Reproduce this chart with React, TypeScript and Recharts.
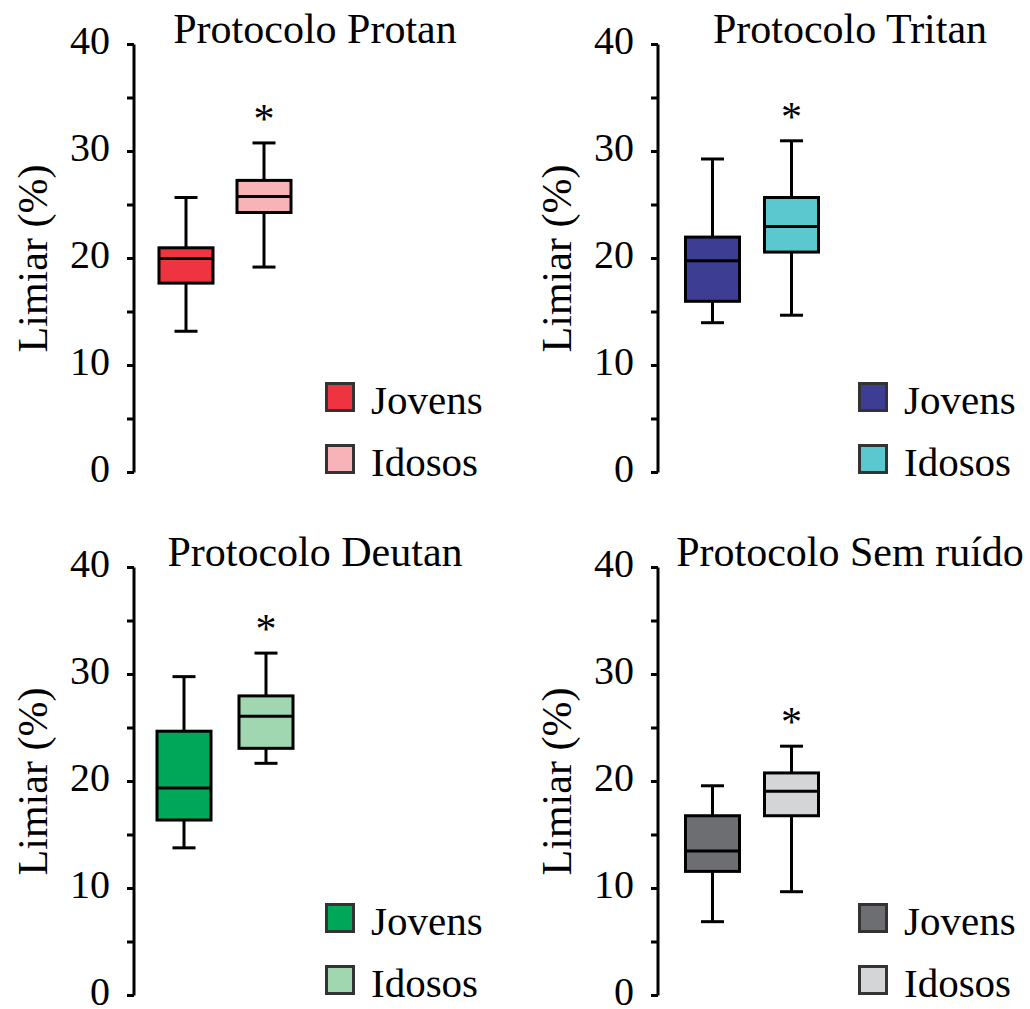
import { ComposedChart, Bar, Cell, XAxis, YAxis } from 'recharts';

const groups = ['Jovens', 'Idosos'];
const yTicks = [0, 5, 10, 15, 20, 25, 30, 35, 40];

// min, q1, median, q3, max per group
const protanMin = [13.2, 19.2];
const protanQ1 = [17.7, 24.3];
const protanMed = [20.0, 25.8];
const protanQ3 = [21.0, 27.3];
const protanMax = [25.7, 30.8];

const tritanMin = [14.0, 14.7];
const tritanQ1 = [16.0, 20.6];
const tritanMed = [19.8, 23.0];
const tritanQ3 = [22.0, 25.7];
const tritanMax = [29.3, 31.0];

const deutanMin = [13.8, 21.7];
const deutanQ1 = [16.4, 23.1];
const deutanMed = [19.4, 26.1];
const deutanQ3 = [24.7, 28.0];
const deutanMax = [29.8, 32.0];

const semMin = [6.9, 9.7];
const semQ1 = [11.6, 16.8];
const semMed = [13.5, 19.1];
const semQ3 = [16.8, 20.8];
const semMax = [19.6, 23.3];

// significance marker (*) per group
const significant = [false, true];

const FONT = '"Liberation Serif", "Times New Roman", serif';

const build = (mn: number[], q1: number[], md: number[], q3: number[], mx: number[]) =>
  groups.map((g, i) => ({
    name: g,
    min: mn[i],
    q1: q1[i],
    median: md[i],
    q3: q3[i],
    max: mx[i],
    sig: significant[i],
  }));

const panels = [
  {
    title: 'Protocolo Protan',
    data: build(protanMin, protanQ1, protanMed, protanQ3, protanMax),
    colors: ['#ee3440', '#f7b3b8'],
    left: 0, top: 0, axisW: 134, padLeft: 13, right: 212,
    titleX: 315, legendX: 325, legendY: 383,
  },
  {
    title: 'Protocolo Tritan',
    data: build(tritanMin, tritanQ1, tritanMed, tritanQ3, tritanMax),
    colors: ['#3d3d94', '#5bc7cf'],
    left: 515, top: 0, axisW: 143, padLeft: 14.5, right: 199.5,
    titleX: 335, legendX: 343, legendY: 383,
  },
  {
    title: 'Protocolo Deutan',
    data: build(deutanMin, deutanQ1, deutanMed, deutanQ3, deutanMax),
    colors: ['#00a758', '#a0d6b0'],
    left: 0, top: 523, axisW: 134, padLeft: 9, right: 208,
    titleX: 315, legendX: 325, legendY: 381,
  },
  {
    title: 'Protocolo Sem ruído',
    data: build(semMin, semQ1, semMed, semQ3, semMax),
    colors: ['#6d6e71', '#d4d5d7'],
    left: 515, top: 523, axisW: 143, padLeft: 14.5, right: 199.5,
    titleX: 335, legendX: 343, legendY: 381,
  },
];

// draws whiskers, box, median and the asterisk from the range bar [min, max]
function BoxShape(props: any) {
  const { x, y, width, height, payload, fill } = props;
  const { min, q1, median, q3, max, sig } = payload;
  const px = (v: number) => y + ((max - v) / (max - min)) * height;
  const cx = x + width / 2;
  const cap = 23;
  return (
    <g>
      <line x1={cx} x2={cx} y1={px(max)} y2={px(q3)} stroke="#000" strokeWidth={3} />
      <line x1={cx} x2={cx} y1={px(q1)} y2={px(min)} stroke="#000" strokeWidth={3} />
      <line x1={cx - cap / 2} x2={cx + cap / 2} y1={px(max)} y2={px(max)} stroke="#000" strokeWidth={3} />
      <line x1={cx - cap / 2} x2={cx + cap / 2} y1={px(min)} y2={px(min)} stroke="#000" strokeWidth={3} />
      <rect x={x} y={px(q3)} width={width} height={px(q1) - px(q3)} fill={fill} stroke="#000" strokeWidth={3} />
      <line x1={x} x2={x + width} y1={px(median)} y2={px(median)} stroke="#000" strokeWidth={3} />
      {sig && (
        <text x={cx} y={px(max) - 10} textAnchor="middle" style={{ fontFamily: FONT, fontSize: 42 }} fill="#000">
          *
        </text>
      )}
    </g>
  );
}

function YTick(props: any) {
  const { x, y, payload } = props;
  const v = payload.value;
  if (v % 10 !== 0) return null;
  return (
    <text x={x} y={y + 9} textAnchor="end" style={{ fontFamily: FONT, fontSize: 40 }} fill="#000">
      {v}
    </text>
  );
}

function YLabel(props: any) {
  const { viewBox, offsetX } = props;
  const cy = viewBox.y + viewBox.height / 2;
  return (
    <text
      x={offsetX}
      y={cy}
      transform={`rotate(-90, ${offsetX}, ${cy})`}
      textAnchor="middle"
      dominantBaseline="central"
      style={{ fontFamily: FONT, fontSize: 42 }}
      fill="#000"
    >
      Limiar (%)
    </text>
  );
}

function Panel({ p }: { p: (typeof panels)[number] }) {
  return (
    <div style={{ position: 'absolute', left: p.left, top: p.top, width: 515, height: 500 }}>
      <div
        style={{
          position: 'absolute',
          left: p.titleX - 200,
          width: 400,
          top: 5,
          textAlign: 'center',
          fontFamily: FONT,
          fontSize: 42,
          lineHeight: '48px',
          whiteSpace: 'nowrap',
        }}
      >
        {p.title}
      </div>
      <ComposedChart
        width={515}
        height={500}
        data={p.data}
        margin={{ top: 44.5, right: p.right, bottom: 27.5, left: 0 }}
      >
        <XAxis dataKey="name" type="category" hide padding={{ left: p.padLeft, right: 0 }} />
        <YAxis
          width={p.axisW}
          domain={[0, 40]}
          ticks={yTicks}
          interval={0}
          tickSize={7}
          tickMargin={17}
          axisLine={{ stroke: '#000', strokeWidth: 3 }}
          tickLine={{ stroke: '#000', strokeWidth: 3 }}
          tick={<YTick />}
          label={<YLabel offsetX={p.axisW - 101} />}
        />
        <Bar
          dataKey={(d: any) => [d.min, d.max]}
          barSize={54}
          shape={<BoxShape />}
          isAnimationActive={false}
        >
          {p.data.map((d, i) => (
            <Cell key={d.name} fill={p.colors[i]} />
          ))}
        </Bar>
      </ComposedChart>
      <div
        style={{
          position: 'absolute',
          left: p.legendX,
          top: p.legendY - 17,
          fontFamily: FONT,
          fontSize: 41,
        }}
      >
        {groups.map((g, i) => (
          <div key={g} style={{ display: 'flex', alignItems: 'center', height: 62 }}>
            <div
              style={{
                width: 24,
                height: 24,
                background: p.colors[i],
                border: '3px solid #333',
                marginRight: 16,
              }}
            />
            <span style={{ lineHeight: '40px', marginTop: 6 }}>{g}</span>
          </div>
        ))}
      </div>
    </div>
  );
}

export default function App() {
  return (
    <div
      style={{
        position: 'absolute',
        left: 0,
        top: 0,
        width: 1030,
        height: 1009,
        overflow: 'hidden',
        background: '#fff',
      }}
    >
      {panels.map((p) => (
        <Panel key={p.title} p={p} />
      ))}
    </div>
  );
}
